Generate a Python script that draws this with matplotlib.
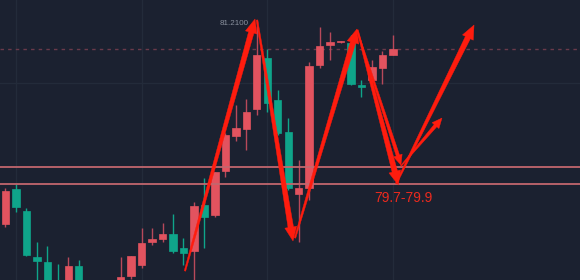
import numpy as np
import matplotlib
matplotlib.use('Agg')
import matplotlib.pyplot as plt
from matplotlib.patches import Polygon, Rectangle

# Candle data (open, high, low, close)
opens = [79.580, 79.856, 79.682, 79.316, 79.272, 79.090, 79.050, 79.242, 78.950, 79.050,
         78.990, 79.060, 79.162, 79.248, 79.432, 79.455, 79.500, 79.386, 79.360, 79.728,
         79.652, 80.002, 80.284, 80.338, 80.498, 80.904, 80.568, 80.312, 79.816, 79.868,
         80.848, 81.012, 81.034, 81.026, 80.688, 80.730, 80.828, 80.932]
highs = [79.864, 79.896, 79.704, 79.432, 79.400, 79.258, 79.312, 79.290, 79.080, 79.080,
         79.120, 79.316, 79.325, 79.546, 79.546, 79.586, 79.658, 79.466, 79.754, 79.948,
         79.994, 80.304, 80.530, 80.576, 81.210, 80.976, 80.650, 80.424, 80.090, 80.876,
         81.156, 81.116, 81.045, 81.090, 80.728, 80.890, 80.962, 81.090]
lows = [79.554, 79.672, 79.322, 79.034, 78.980, 78.940, 79.020, 79.030, 78.920, 78.950,
        78.960, 79.030, 79.138, 79.226, 79.412, 79.432, 79.348, 79.248, 79.050, 79.388,
        79.634, 79.956, 80.242, 80.170, 80.448, 80.476, 80.290, 79.850, 79.436, 79.770,
        80.824, 80.890, 81.030, 80.690, 80.596, 80.714, 80.698, 80.930]
closes = [79.844, 79.714, 79.330, 79.282, 79.010, 78.970, 79.242, 79.066, 79.050, 78.980,
          79.100, 79.154, 79.320, 79.424, 79.460, 79.500, 79.364, 79.348, 79.720, 79.636,
          79.994, 80.290, 80.346, 80.474, 80.928, 80.548, 80.308, 79.868, 79.868, 80.842,
          81.004, 81.032, 81.042, 80.700, 80.672, 80.832, 80.930, 80.980]

# support zone lines and labels
zone_levels = [80.034, 79.898]
zone_label = '79.7-79.9'
high_label = '81.2100'
high_idx, high_price = 24, 81.21

# drawn arrows: (x0, y0, x1, y1, thick?) in candle index / price
arrows = [
    (17.14, 79.202, 23.83, 81.218, True),
    (24.02, 81.210, 27.46, 79.442, True),
    (27.65, 79.466, 33.57, 81.138, True),
    (33.57, 81.130, 37.77, 80.050, False),
    (33.62, 81.130, 37.52, 79.890, True),
    (37.77, 80.042, 41.69, 80.426, False),
    (37.30, 79.900, 44.75, 81.170, True),
]

BG = '#1b2130'
RED = '#e2535f'
RED_WICK = '#b8495a'
GREEN = '#0fa58a'
ARROW = '#ff1c0e'

fig = plt.figure(figsize=(5.8, 2.8), dpi=100)
fig.patch.set_facecolor(BG)
ax = fig.add_axes([0, 0, 1, 1])
ax.set_facecolor(BG)
ax.set_xlim(-0.525, 54.87)
ax.set_ylim(79.13, 81.37)
ax.axis('off')

# grid
for gx in [1, 13, 25, 37]:
    ax.axvline(gx, color='#232b3a', lw=1, zorder=0)
ax.axhline(80.706, color='#232b3a', lw=1, zorder=0)

# candles
w = 0.7
for i, (o, h, l, c) in enumerate(zip(opens, highs, lows, closes)):
    up = c >= o
    col = RED if up else GREEN
    wick = RED_WICK if up else GREEN
    ax.plot([i, i], [l, h], color=wick, lw=1, zorder=2, solid_capstyle='butt')
    bot = min(o, c)
    hgt = max(abs(c - o), 0.004)
    ax.add_patch(Rectangle((i - w / 2, bot), w, hgt, facecolor=col,
                           edgecolor=col, lw=0.5, zorder=3))

# last price dotted line
ax.axhline(closes[-1], color='#6a3a4a', lw=1, linestyle=(0, (2.5, 3)), zorder=1)

# zone lines
for lv in zone_levels:
    ax.axhline(lv, color='#c2666e', lw=1.3, zorder=4)


def tapered_arrow(x0, y0, x1, y1, w0, w1, hw, hl):
    T = ax.transData
    p0 = T.transform((x0, y0))
    p1 = T.transform((x1, y1))
    d = p1 - p0
    u = d / np.hypot(*d)
    n = np.array([-u[1], u[0]])
    neck = p1 - u * hl
    pts = [p0 + n * w0 / 2, neck + n * w1 / 2, neck + n * hw / 2, p1,
           neck - n * hw / 2, neck - n * w1 / 2, p0 - n * w0 / 2]
    ax.add_patch(Polygon(T.inverted().transform(pts), closed=True,
                         facecolor=ARROW, edgecolor=ARROW, lw=0.3, zorder=6))


for x0, y0, x1, y1, thick in arrows:
    if thick:
        tapered_arrow(x0, y0, x1, y1, 1.5, 5.5, 12, 14)
    else:
        tapered_arrow(x0, y0, x1, y1, 1.0, 3.5, 9, 10)

ax.text(38.0, 79.79, zone_label, color='#ec2a1e', fontsize=10,
        family='Liberation Sans', ha='center', va='center', zorder=7)
ax.text(high_idx - 0.75, high_price - 0.03, high_label, color='#8a919e', fontsize=5.8,
        family='Liberation Sans', ha='right', va='center', zorder=7)

fig.savefig('out.png', dpi=100, facecolor=BG)
